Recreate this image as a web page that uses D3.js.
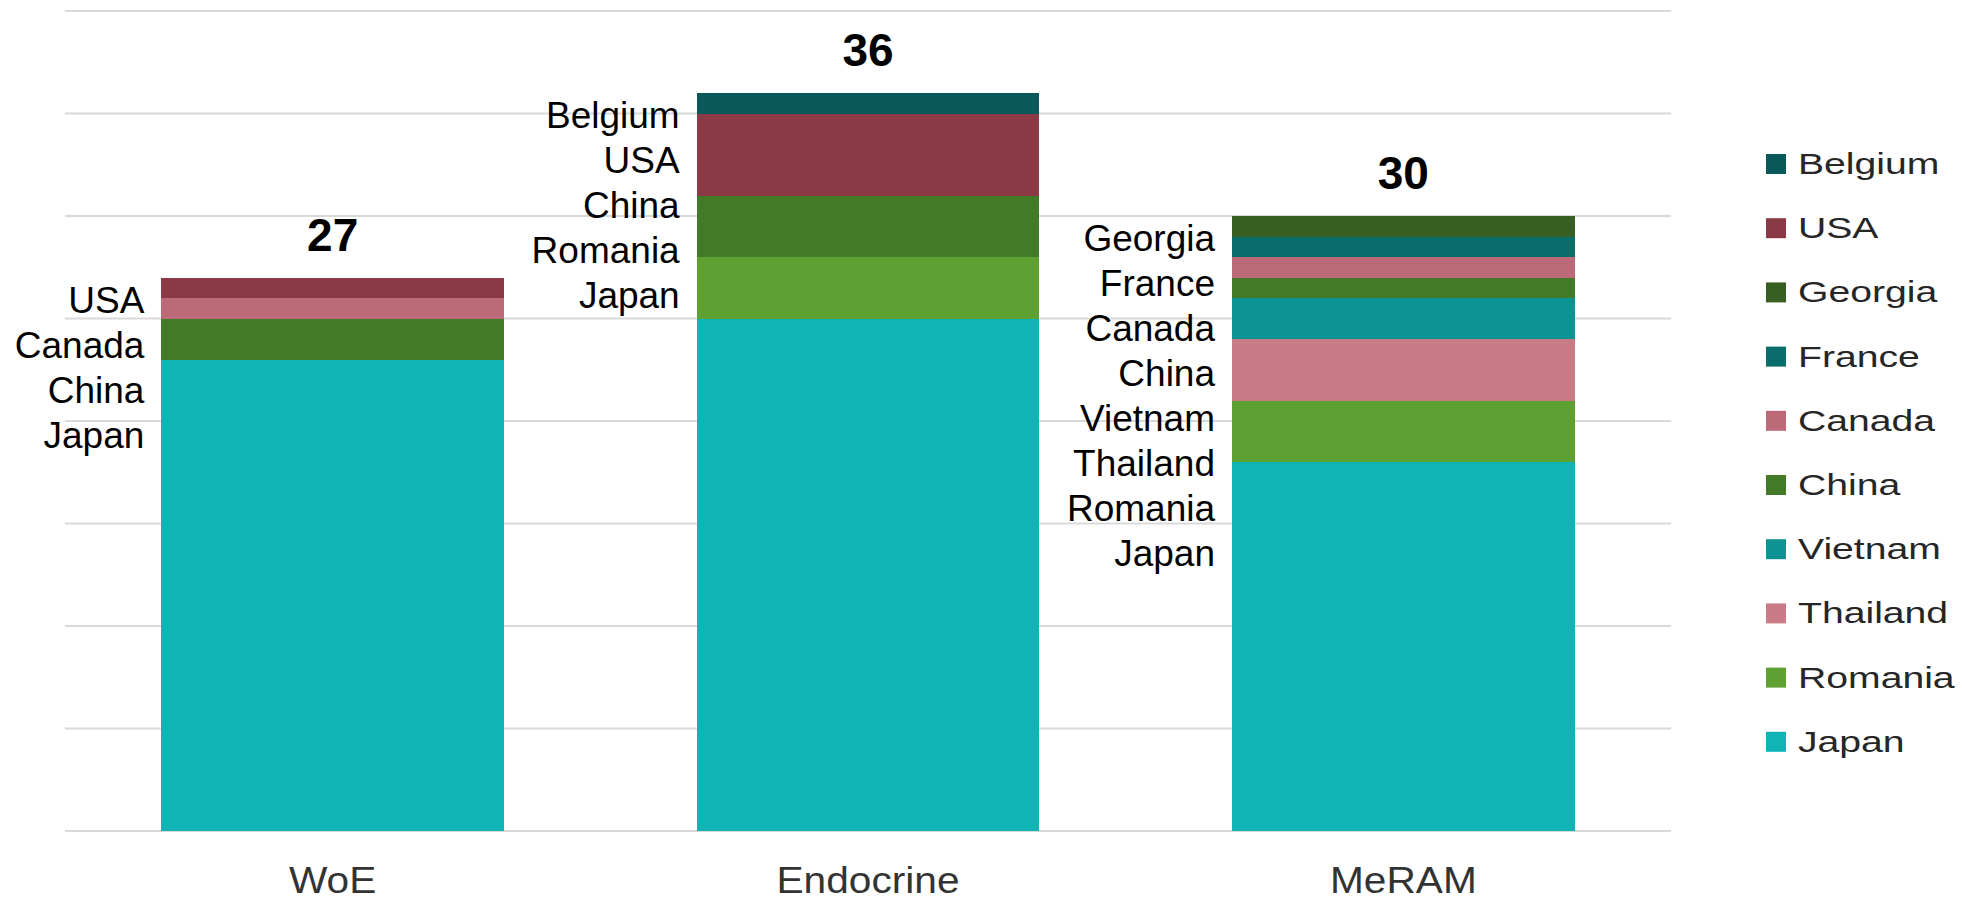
<!DOCTYPE html>
<html>
<head>
<meta charset="utf-8">
<script src="https://cdn.jsdelivr.net/npm/d3@7"></script>
<style>
  html, body { margin: 0; padding: 0; background: #fff; }
  svg { display: block; font-family: "Liberation Sans", Arial, sans-serif; }
</style>
</head>
<body>
<svg id="chart" width="1962" height="900"></svg>
<script>
// ---- data ----
const categories = ["WoE", "Endocrine", "MeRAM"];
// stacking order, bottom to top
const seriesNames = ["Japan", "Romania", "Thailand", "Vietnam", "China", "Canada", "France", "Georgia", "USA", "Belgium"];
const Japan    = [23, 25, 18];
const Romania  = [0, 3, 3];
const Thailand = [0, 0, 3];
const Vietnam  = [0, 0, 2];
const China    = [2, 3, 1];
const Canada   = [1, 0, 1];
const France   = [0, 0, 1];
const Georgia  = [0, 0, 1];
const USA      = [1, 4, 0];
const Belgium  = [0, 1, 0];
const yTicks = [0, 5, 10, 15, 20, 25, 30, 35, 40];

const seriesValues = { Japan, Romania, Thailand, Vietnam, China, Canada, France, Georgia, USA, Belgium };
const colors = {
  Japan: "#10b4b5", Romania: "#5ea032", Thailand: "#ca7c86", Vietnam: "#0e9393",
  China: "#437a27", Canada: "#bc6a77", France: "#0a6c6b", Georgia: "#385f22",
  USA: "#8b3944", Belgium: "#0a5859"
};

const table = categories.map((c, i) => {
  const row = { category: c };
  seriesNames.forEach(s => row[s] = seriesValues[s][i]);
  return row;
});
const totals = categories.map((c, i) => d3.sum(seriesNames, s => seriesValues[s][i]));

const svg = d3.select("#chart");
const x = d3.scaleBand().domain(categories).range([65, 1671]).paddingInner(0.36).paddingOuter(0.18);
const y = d3.scaleLinear().domain([0, 40]).range([831, 11]);

// gridlines
svg.append("g").selectAll("line").data(yTicks).join("line")
  .attr("x1", 65).attr("x2", 1671)
  .attr("y1", d => y(d)).attr("y2", d => y(d))
  .attr("stroke", "#d9d9d9").attr("stroke-width", 2);

// stacked bars
const stack = d3.stack().keys(seriesNames)(table);
svg.append("g").attr("shape-rendering", "crispEdges")
  .selectAll("g").data(stack).join("g")
  .attr("fill", d => colors[d.key])
  .selectAll("rect").data(d => d).join("rect")
  .attr("x", d => x(d.data.category))
  .attr("width", x.bandwidth())
  .attr("y", d => y(d[1]))
  .attr("height", d => y(d[0]) - y(d[1]));

// totals
svg.append("g").selectAll("text").data(categories).join("text")
  .attr("x", d => x(d) + x.bandwidth() / 2)
  .attr("y", (d, i) => y(totals[i]) - 27)
  .attr("text-anchor", "middle")
  .attr("font-size", 46).attr("font-weight", "bold").attr("fill", "#000")
  .text((d, i) => totals[i]);

// series name lists to the left of each bar (top-to-bottom order)
categories.forEach((c, i) => {
  const names = seriesNames.filter(s => seriesValues[s][i] > 0).reverse();
  svg.append("g").selectAll("text").data(names).join("text")
    .attr("x", x(c) - 17)
    .attr("y", (d, j) => y(totals[i]) + 35 + j * 45)
    .attr("text-anchor", "end")
    .attr("font-size", 37).attr("fill", "#000")
    .text(d => d);
});

// category axis labels
svg.append("g").selectAll("text").data(categories).join("text")
  .attr("transform", d => `translate(${x(d) + x.bandwidth() / 2},893) scale(1.13,1)`)
  .attr("text-anchor", "middle")
  .attr("font-size", 36).attr("fill", "#333")
  .text(d => d);

// legend
const legendNames = seriesNames.slice().reverse();
const lg = svg.append("g").selectAll("g").data(legendNames).join("g")
  .attr("transform", (d, i) => `translate(1766,${154 + i * 64.2})`);
lg.append("rect").attr("width", 20).attr("height", 20).attr("fill", d => colors[d]);
lg.append("text")
  .attr("transform", "translate(32,20) scale(1.35,1)")
  .attr("font-size", 29).attr("fill", "#262626")
  .text(d => d);
</script>
</body>
</html>
